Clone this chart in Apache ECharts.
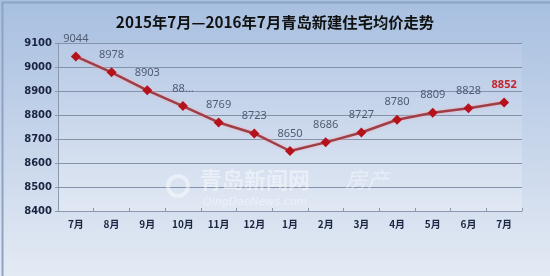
<!DOCTYPE html>
<html>
<head>
<meta charset="utf-8">
<script src="https://cdn.jsdelivr.net/npm/echarts@6/dist/echarts.min.js"></script>
<style>html,body{margin:0;padding:0;}#c{width:550px;height:276px;}</style>
</head>
<body>
<div id="c"></div>
<script>
var titleText = '2015年7月—2016年7月青岛新建住宅均价走势';
var categories = ['7月','8月','9月','10月','11月','12月','1月','2月','3月','4月','5月','6月','7月'];
var prices = [9044, 8978, 8903, 8837, 8769, 8723, 8650, 8686, 8727, 8780, 8809, 8828, 8852];
var pointLabels = ['9044','8978','8903','88...','8769','8723','8650','8686','8727','8780','8809','8828','8852'];
var yTicks = [8400, 8500, 8600, 8700, 8800, 8900, 9000, 9100];

var chart = echarts.init(document.getElementById('c'));
var seriesData = prices.map(function (v, i) {
  var item = { value: v };
  if (i === prices.length - 1) {
    item.label = { color: '#c3262e', fontWeight: 'bold' };
  }
  return item;
});
chart.setOption({
  backgroundColor: {
    type: 'linear', x: 0, y: 0, x2: 0, y2: 1,
    colorStops: [{ offset: 0, color: '#a7bfe0' }, { offset: 1, color: '#e4eaf4' }]
  },
  title: {
    text: titleText, left: 'center', top: 10,
    textStyle: { fontFamily: 'Noto Sans CJK SC', fontWeight: 'bold', fontSize: 15.3, color: '#111111' }
  },
  grid: {
    left: 58, right: 28, top: 43, bottom: 65, show: true, borderWidth: 0,
    backgroundColor: {
      type: 'linear', x: 0, y: 0, x2: 0, y2: 1,
      colorStops: [{ offset: 0, color: 'rgba(190,206,232,0.5)' }, { offset: 1, color: 'rgba(232,237,246,0.6)' }]
    }
  },
  graphic: [
    { type: 'rect', left: 0, top: 0, shape: { width: 549, height: 275 }, style: { fill: 'none', stroke: '#8ea3c4', lineWidth: 2 }, z: 100 },
    { type: 'text', left: 200, top: 169, z: 1, style: { text: '青岛新闻网', fill: 'rgba(255,255,255,0.45)', font: 'bold 22px "Noto Sans CJK SC"' } },
    { type: 'text', left: 345, top: 169, z: 1, style: { text: '房产', fill: 'rgba(255,255,255,0.4)', font: 'italic 22px "Noto Sans CJK SC"' } },
    { type: 'text', left: 203, top: 197, z: 1, style: { text: 'QingDaoNews.com', fill: 'rgba(255,255,255,0.45)', font: 'italic 11px "DejaVu Sans"' } },
    { type: 'circle', shape: { cx: 178, cy: 186, r: 10 }, z: 1, style: { fill: 'none', stroke: 'rgba(255,255,255,0.45)', lineWidth: 4 } }
  ],
  xAxis: {
    type: 'category', data: categories, boundaryGap: true,
    axisLine: { lineStyle: { color: '#8c99ad', width: 1 } },
    axisTick: { show: true, length: 3, inside: true, lineStyle: { color: '#8c99ad' } },
    axisLabel: { color: '#1a2340', fontWeight: 'bold', fontSize: 10, margin: 8, fontFamily: 'Noto Sans CJK SC' }
  },
  yAxis: {
    type: 'value', min: 8400, max: 9100, interval: 100,
    axisLine: { show: true, lineStyle: { color: '#8c99ad' } },
    axisTick: { show: true, length: 3, lineStyle: { color: '#8c99ad' } },
    axisLabel: {
      color: '#1a2340', fontWeight: 'bold', fontSize: 10, margin: 6, fontFamily: 'DejaVu Sans',
      formatter: function (v) { return yTicks.indexOf(v) >= 0 ? String(v) : ''; }
    },
    splitLine: { lineStyle: { color: '#8593aa', width: 1 } }
  },
  series: [{
    type: 'line', data: seriesData,
    symbol: 'diamond', symbolSize: 10,
    itemStyle: { color: '#b5121b' },
    lineStyle: { color: '#9e3f48', width: 2.5, shadowColor: 'rgba(245,170,180,0.95)', shadowBlur: 3 },
    label: {
      show: true, position: 'top', distance: 7, color: '#4f5b72', fontSize: 11, fontFamily: 'Noto Sans',
      formatter: function (p) { return pointLabels[p.dataIndex]; }
    },
    z: 5
  }]
});
</script>
</body>
</html>
